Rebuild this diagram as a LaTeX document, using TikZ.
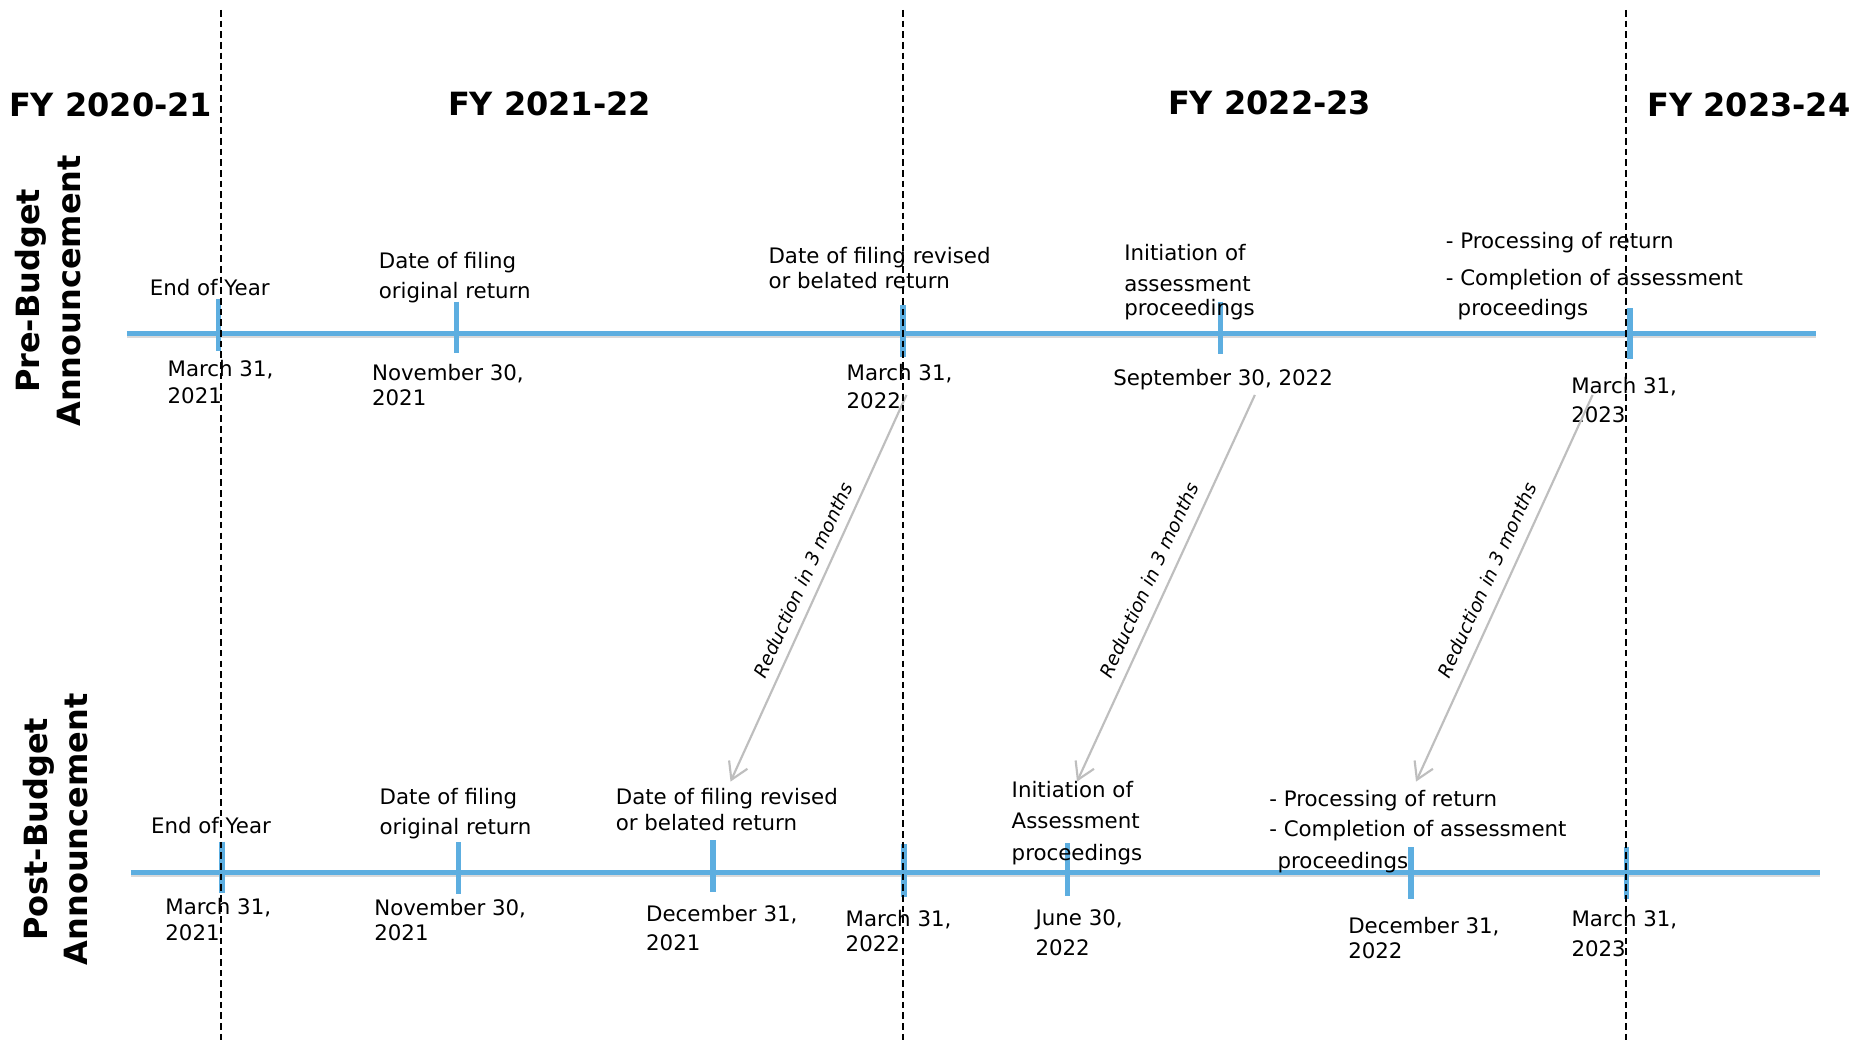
\documentclass[tikz,border=0pt]{standalone}
\usepackage{fontspec}
\setmainfont{DejaVu Sans}
\usetikzlibrary{arrows.meta}
\definecolor{tlblue}{RGB}{93,174,224}
\definecolor{argray}{RGB}{190,190,190}
\newcommand\lf[1]{\fontsize{18}{#1}\selectfont}
\begin{document}
\begin{tikzpicture}[x=1pt,y={(0pt,-1pt)},
  lab/.style={anchor=north west, inner sep=0pt, align=left, text=black},
  ttl/.style={anchor=base west, inner sep=0pt, font=\fontsize{27}{32}\selectfont\bfseries},
  vlab/.style={rotate=90, inner sep=0pt, align=center, font=\fontsize{27}{34}\selectfont\bfseries},
  rlab/.style={rotate=65.5, inner sep=0pt, font=\fontsize{15.8}{18}\selectfont\itshape},
  tline/.style={draw=tlblue, line width=4.4pt},
  tshadow/.style={draw=gray!30, line width=3pt},
  tickmark/.style={draw=tlblue, line width=4.5pt},
  fydiv/.style={draw=black, line width=1.3pt, dash pattern=on 5.6pt off 3.4pt},
  redarr/.style={draw=argray, line width=1.8pt, -{Straight Barb[length=14pt,width=17pt]}}]
\useasboundingbox[fill=white] (0,0) rectangle (1568,879);

% titles
\node[ttl] (fy1) at (7.5,98.5) {FY 2020-21};
\node[ttl] (fy2) at (377.9,97.6) {FY 2021-22};
\node[ttl] (fy3) at (985.6,97) {FY 2022-23};
\node[ttl] (fy4) at (1390,98.5) {FY 2023-24};

% side labels
\node[vlab] (pre) at (40.5,245.5) {Pre-Budget\\Announcement};
\node[vlab] (post) at (47,700) {Post-Budget\\Announcement};

% timelines
\coordinate (t0) at (107,281.5);
\coordinate (t1) at (1532.6,281.5);
\coordinate (b0) at (110.4,736.5);
\coordinate (b1) at (1536,736.5);
\draw[tshadow] ([yshift=-2.5pt]t0) -- ([yshift=-2.5pt]t1);
\draw[tshadow] ([yshift=-2.5pt]b0) -- ([yshift=-2.5pt]b1);
\draw[tline] (t0) -- (t1);
\draw[tline] (b0) -- (b1);

% ticks top
\foreach \x/\a/\b in {184.6/252.3/296, 385/254.6/297.6, 762/257.4/301, 1030/254.6/298.7, 1375.6/260.2/303.2}
  \draw[tickmark] (\x,\a) -- (\x,\b);
% ticks bottom
\foreach \x/\a/\b in {187.3/710.3/753.8, 386.9/710.8/754.4, 601.7/708.9/752.5, 762.9/712.5/756.7, 900.8/711.7/755.9, 1190.8/715/758.9, 1372.8/714.5/758.9}
  \draw[tickmark] (\x,\a) -- (\x,\b);

% top labels
\node[lab, font=\lf{24}] (eoy1) at (126.2,235.3) {End of Year};
\node[lab, font=\lf{25.3}] (orig1) at (319.5,212.7) {Date of filing\\original return};
\node[lab, font=\lf{21.1}] (rev1) at (648.4,208.5) {Date of filing revised\\or belated return};
\node[lab, font=\lf{20.2}] (init1) at (948.6,205.7) {Initiation of\\[6pt]assessment\\proceedings};
\node[lab, font=\lf{25.3}] (proc1) at (1220,195.9) {- Processing of return\\[5.6pt]- Completion of assessment\\\hspace*{10pt}proceedings};
\node[lab, font=\lf{23.1}] (d11) at (141.3,303.6) {March 31,\\2021};
\node[lab, font=\lf{21.1}] (d12) at (313.8,307) {November 30,\\2021};
\node[lab, font=\lf{23.9}] (d13) at (714.3,307) {March 31,\\2022};
\node[lab, font=\lf{24}] (d14) at (939.3,311.2) {September 30, 2022};
\node[lab, font=\lf{24.8}] (d15) at (1325.8,318.2) {March 31,\\2023};

% bottom labels
\node[lab, font=\lf{24}] (eoy2) at (127.3,689.5) {End of Year};
\node[lab, font=\lf{25.3}] (orig2) at (320.2,664.8) {Date of filing\\original return};
\node[lab, font=\lf{21.9}] (rev2) at (519.5,664.8) {Date of filing revised\\or belated return};
\node[lab, font=\lf{26.3}] (init2) at (853.6,659.4) {Initiation of\\Assessment\\proceedings};
\node[lab, font=\lf{25.3}] (proc2) at (1071,667) {- Processing of return\\- Completion of assessment\\[1.5pt]\hspace*{7pt}proceedings};
\node[lab, font=\lf{22.5}] (d21) at (139.4,757.6) {March 31,\\2021};
\node[lab, font=\lf{21.6}] (d22) at (315.7,758.5) {November 30,\\2021};
\node[lab, font=\lf{23.9}] (d23) at (545.1,764.1) {December 31,\\2021};
\node[lab, font=\lf{21.1}] (d24) at (713.5,768.3) {March 31,\\2022};
\node[lab, font=\lf{25.3}] (d25) at (873.7,767.5) {June 30,\\2022};
\node[lab, font=\lf{21.1}] (d26) at (1137.6,773.9) {December 31,\\2022};
\node[lab, font=\lf{25.4}] (d27) at (1326,768.3) {March 31,\\2023};

% reduction arrows
\coordinate (a1s) at (765,333.3);
\coordinate (a1e) at (616.5,659.6);
\coordinate (a2s) at (1059,333.3);
\coordinate (a2e) at (908.9,659.6);
\coordinate (a3s) at (1344,333.3);
\coordinate (a3e) at (1195,659.6);
\draw[redarr] (a1s) -- (a1e);
\draw[redarr] (a2s) -- (a2e);
\draw[redarr] (a3s) -- (a3e);
\node[rlab] (r1) at (677.5,489.5) {Reduction in 3 months};
\node[rlab] (r2) at (969.5,489.5) {Reduction in 3 months};
\node[rlab] (r3) at (1255,489.5) {Reduction in 3 months};

% fiscal year dividers
\draw[fydiv] (186.5,8.4) -- (186.5,879);
\draw[fydiv] (762,8.4) -- (762,879);
\draw[fydiv] (1372,8.4) -- (1372,879);
\end{tikzpicture}
\end{document}
